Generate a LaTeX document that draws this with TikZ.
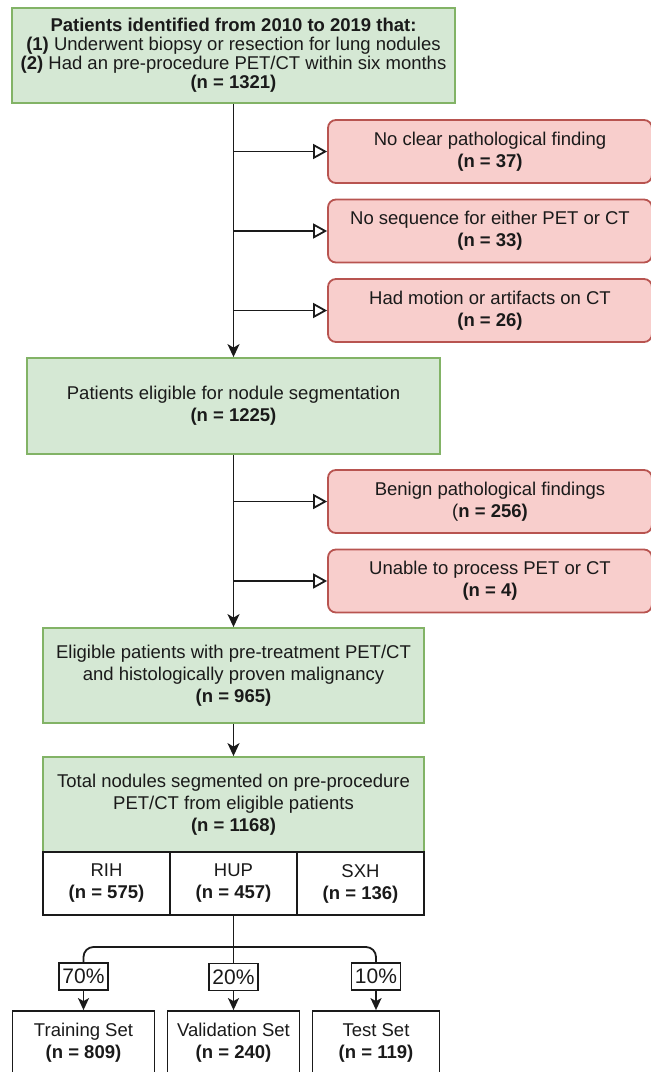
\documentclass[tikz,border=0pt]{standalone}
\usepackage{fontspec}
\setmainfont{Liberation Sans}
\usetikzlibrary{arrows.meta}
\definecolor{gfill}{HTML}{D5E8D4}
\definecolor{gdraw}{HTML}{82B366}
\definecolor{rfill}{HTML}{F8CECC}
\definecolor{rdraw}{HTML}{B85450}
\definecolor{ink}{HTML}{1A1A1A}
\begin{document}
\begin{tikzpicture}[x=1pt,y=-1pt,
  txt/.style={font=\fontsize{18.5}{22}\selectfont, align=center, text=ink},
  greenbox/.style={txt, draw=gdraw, fill=gfill, line width=1.8pt, inner sep=0pt},
  redbox/.style={txt, draw=rdraw, fill=rfill, line width=1.8pt, rounded corners=8pt, inner sep=0pt, minimum width=324pt, minimum height=63pt},
  cellbox/.style={txt, draw=ink, fill=white, line width=1.8pt, inner sep=0pt, minimum width=127pt, minimum height=63pt},
  setbox/.style={txt, draw=ink, fill=white, line width=1.8pt, inner sep=0pt, minimum height=64pt},
  pctbox/.style={txt, font=\fontsize{21}{24}\selectfont, draw=ink, fill=white, line width=1.4pt, inner sep=0pt, minimum width=49pt, minimum height=27pt},
  conn/.style={draw=ink, line width=1.8pt},
  flow/.style={conn, -{Stealth[length=13pt,width=12pt,inset=3.5pt]}},
  flowsmall/.style={conn, -{Stealth[length=12pt,width=11pt,inset=3pt]}},
  excl/.style={conn, -{Triangle[open,length=14pt,width=15pt,fill=white]}},
]
\useasboundingbox (0,0) rectangle (651,1072);

% main column
\node[greenbox, minimum width=443pt, minimum height=95pt, font=\fontsize{18.5}{19}\selectfont] (top) at (233.5,55.5)
  {\textbf{Patients identified from 2010 to 2019 that:}\\ \textbf{(1)} Underwent biopsy or resection for lung nodules\\ \textbf{(2)} Had an pre-procedure PET/CT within six months\\ \textbf{(n = 1321)}};
\node[greenbox, minimum width=413pt, minimum height=96pt] (g2) at (233.5,406)
  {Patients eligible for nodule segmentation\\ \textbf{(n = 1225)}};
\node[greenbox, minimum width=381pt, minimum height=95pt] (g3) at (233.5,675.5)
  {Eligible patients with pre-treatment PET/CT\\ and histologically proven malignancy\\ \textbf{(n = 965)}};
\node[greenbox, minimum width=381pt, minimum height=95pt] (g4) at (233.5,804.5)
  {Total nodules segmented on pre-procedure\\ PET/CT from eligible patients\\ \textbf{(n = 1168)}};

% exclusion boxes
\node[redbox] (r1) at (490,151.5) {No clear pathological finding\\ \textbf{(n = 37)}};
\node[redbox] (r2) at (490,231) {No sequence for either PET or CT\\ \textbf{(n = 33)}};
\node[redbox] (r3) at (490,310.5) {Had motion or artifacts on CT\\ \textbf{(n = 26)}};
\node[redbox] (r4) at (490,501.5) {Benign pathological findings\\ (\textbf{n = 256)}};
\node[redbox] (r5) at (490,581) {Unable to process PET or CT\\ \textbf{(n = 4)}};

% site table
\node[cellbox] (rih) at (106.5,883.5) {RIH\\ \textbf{(n = 575)}};
\node[cellbox] (hup) at (233.5,883.5) {HUP\\ \textbf{(n = 457)}};
\node[cellbox] (sxh) at (360.5,883.5) {SXH\\ \textbf{(n = 136)}};

% split labels
\node[pctbox] (p70) at (83.5,976.5) {70\%};
\node[pctbox] (p20) at (233.5,977) {20\%};
\node[pctbox] (p10) at (376,976.5) {10\%};

% sets
\node[setbox, minimum width=142pt] (train) at (83.5,1043) {Training Set\\ \textbf{(n = 809)}};
\node[setbox, minimum width=132pt] (val) at (233.5,1043) {Validation Set\\ \textbf{(n = 240)}};
\node[setbox, minimum width=127pt] (test) at (376,1043) {Test Set\\ \textbf{(n = 119)}};

% trunk connectors
\draw[flow] (top) -- (g2);
\draw[flow] (g2) -- (g3);
\draw[flow] (g3) -- (g4);

\coordinate (j1) at (top.south |- r1.west);
\coordinate (j2) at (top.south |- r2.west);
\coordinate (j3) at (top.south |- r3.west);
\coordinate (j4) at (g2.south |- r4.west);
\coordinate (j5) at (g2.south |- r5.west);
\draw[excl] (j1) -- (r1.west);
\draw[excl] (j2) -- (r2.west);
\draw[excl] (j3) -- (r3.west);
\draw[excl] (j4) -- (r4.west);
\draw[excl] (j5) -- (r5.west);

% split
\coordinate (jb) at (233.5,947);
\draw[conn] (hup.south) -- (p20.north);
\draw[conn, rounded corners=10pt] (jb) -| (p70.north);
\draw[conn, rounded corners=10pt] (jb) -| (p10.north);
\draw[flowsmall] (p70) -- (train);
\draw[flowsmall] (p20) -- (val);
\draw[flowsmall] (p10) -- (test);
\end{tikzpicture}
\end{document}
